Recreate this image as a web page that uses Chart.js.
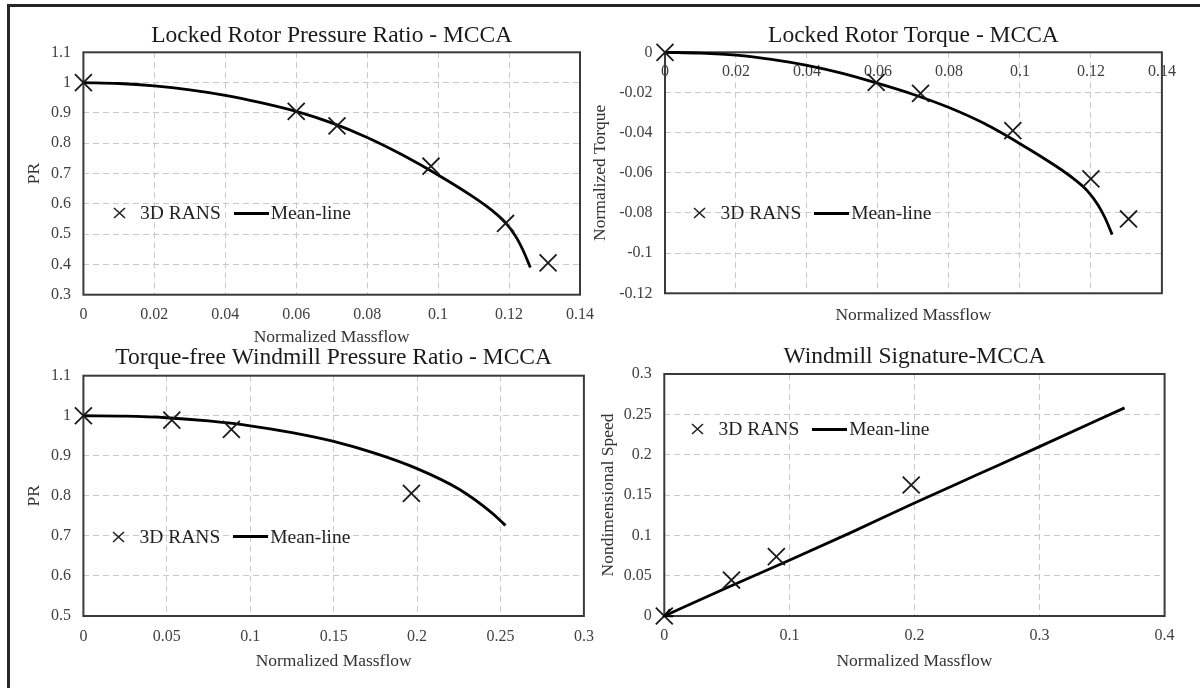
<!DOCTYPE html>
<html>
<head>
<meta charset="utf-8">
<title>MCCA windmill charts</title>
<script src="https://cdn.jsdelivr.net/npm/chart.js@4.4.1/dist/chart.umd.min.js"></script>
<style>
  body { margin: 0; background: #fff; }
  #page { position: relative; width: 1200px; height: 688px; overflow: hidden; background: #fff; }
  #frame { position: absolute; left: 7px; top: 4px; right: 0; bottom: 0; border-left: 3px solid #262626; border-top: 3px solid #262626; }
  #page canvas { position: absolute; }
  .legend { position: absolute; display: flex; align-items: center; height: 24px; font-family: "Liberation Serif", serif; font-size: 19.5px; color: #222; white-space: nowrap; }
  .legend svg { margin-right: 14.5px; }
  .legend .swatch { display: inline-block; width: 35px; height: 3px; background: #000; margin: 0 2px 0 13px; }
</style>
</head>
<body>
<div id="page">
  <div id="frame"></div>
  <canvas id="lrpr"></canvas>
  <canvas id="lrt"></canvas>
  <canvas id="tfw"></canvas>
  <canvas id="ws"></canvas>
</div>
<script>
// Locked rotor pressure ratio
const lrprRansX = [0, 0.06, 0.0715, 0.098, 0.119, 0.131];
const lrprRansY = [1.0, 0.905, 0.857, 0.724, 0.535, 0.405];
const lrprLineX = [0, 0.01, 0.02, 0.03, 0.04, 0.05, 0.06, 0.07, 0.08, 0.09, 0.10, 0.11, 0.115, 0.119, 0.122, 0.124, 0.126];
const lrprLineY = [1.0, 0.997, 0.989, 0.976, 0.958, 0.934, 0.905, 0.867, 0.819, 0.761, 0.695, 0.622, 0.580, 0.538, 0.49, 0.445, 0.39];

// Locked rotor torque
const lrtRansX = [0, 0.0595, 0.072, 0.098, 0.12, 0.1306];
const lrtRansY = [0, -0.015, -0.0205, -0.039, -0.063, -0.083];
const lrtLineX = [0, 0.01, 0.02, 0.03, 0.04, 0.05, 0.06, 0.07, 0.08, 0.09, 0.10, 0.11, 0.115, 0.119, 0.122, 0.124, 0.126];
const lrtLineY = [0, -0.0004, -0.0014, -0.0035, -0.0065, -0.0105, -0.0155, -0.021, -0.0275, -0.0355, -0.0455, -0.0565, -0.0628, -0.069, -0.076, -0.0825, -0.0908];

// Torque-free windmill pressure ratio
const tfwRansX = [0, 0.053, 0.0887, 0.1966];
const tfwRansY = [1.0, 0.989, 0.966, 0.806];
const tfwLineX = [0, 0.025, 0.05, 0.075, 0.1, 0.125, 0.15, 0.175, 0.2, 0.225, 0.245, 0.25, 0.253];
const tfwLineY = [1.0, 0.999, 0.995, 0.987, 0.975, 0.958, 0.936, 0.906, 0.868, 0.817, 0.757, 0.738, 0.726];

// Windmill signature
const wsRansX = [0, 0.0537, 0.0896, 0.1974];
const wsRansY = [0, 0.0446, 0.0735, 0.1624];
const wsLineX = [0, 0.05, 0.1, 0.15, 0.2, 0.25, 0.3, 0.368];
const wsLineY = [0, 0.035, 0.069, 0.104, 0.140, 0.175, 0.210, 0.258];

const seriesNames = ['3D RANS', 'Mean-line'];
const xAxisName = 'Normalized Massflow';

const SERIF = '"Liberation Serif", serif';

function pts(xs, ys) {
    return xs.map((x, i) => ({ x: x, y: ys[i] }));
}

function tickText(v) {
    return String(+v.toFixed(3));
}

// plot area outline like the excel chart
const plotFrame = {
    id: 'plotFrame',
    beforeDatasetsDraw(chart) {
        const a = chart.chartArea;
        const ctx = chart.ctx;
        ctx.save();
        ctx.strokeStyle = '#3a3a3a';
        ctx.lineWidth = 2;
        ctx.strokeRect(a.left, a.top, a.right - a.left, a.bottom - a.top);
        ctx.restore();
    }
};

// little arrow head where the mean-line meets the origin
const arrowStart = {
    id: 'arrowStart',
    afterDatasetsDraw(chart) {
        const meta = chart.getDatasetMeta(1);
        const a = meta.data[0], b = meta.data[1];
        const ang = Math.atan2(a.y - b.y, a.x - b.x);
        const ctx = chart.ctx;
        ctx.save();
        ctx.strokeStyle = '#000';
        ctx.lineWidth = 2;
        ctx.beginPath();
        ctx.moveTo(a.x - 9 * Math.cos(ang - 0.45), a.y - 9 * Math.sin(ang - 0.45));
        ctx.lineTo(a.x, a.y);
        ctx.lineTo(a.x - 9 * Math.cos(ang + 0.45), a.y - 9 * Math.sin(ang + 0.45));
        ctx.stroke();
        ctx.restore();
    }
};

function addLegend(chart, left, centerY) {
    const box = document.createElement('div');
    box.className = 'legend';
    box.style.left = left + 'px';
    box.style.top = (centerY - 12) + 'px';
    const ds = chart.data.datasets;
    box.innerHTML = '<svg width="13" height="12"><path d="M1 1 L12 11 M12 1 L1 11" stroke="#222" stroke-width="1.6" fill="none"/></svg>' +
        '<span>' + ds[0].label + '</span><span class="swatch"></span><span>' + ds[1].label + '</span>';
    document.getElementById('page').appendChild(box);
}

function buildPanel(p) {
    const cv = document.getElementById(p.id);
    cv.width = p.width;
    cv.height = p.height;
    cv.style.left = p.left + 'px';
    cv.style.top = p.top + 'px';

    const gridLines = { color: '#c9c9c9', lineWidth: 1, drawTicks: false, borderDash: [6, 4] };
    const tickFont = { family: SERIF, size: 16 };
    const titleFont = { family: SERIF, size: 17.5 };

    const scales = {
        x: {
            type: 'linear', min: p.xMin, max: p.xMax,
            position: p.xAtZero ? { y: 0 } : 'bottom',
            border: { display: false, dash: [6, 4] },
            grid: gridLines,
            ticks: { stepSize: p.xStep, padding: p.xTickPad, font: tickFont, color: '#404040', maxRotation: 0, autoSkip: false, callback: tickText },
            title: { display: !p.xAtZero, text: xAxisName, font: titleFont, color: '#333', padding: { top: 0, bottom: p.xTitlePad } },
            afterFit: s => { if (!p.xAtZero) s.height = p.xHeight; }
        },
        y: {
            type: 'linear', min: p.yMin, max: p.yMax, position: 'left',
            border: { display: false, dash: [6, 4] },
            grid: gridLines,
            ticks: { stepSize: p.yStep, padding: 12.5, font: tickFont, color: '#404040', autoSkip: false, callback: tickText },
            title: { display: true, text: p.yTitle, font: titleFont, color: '#333', padding: { top: p.yTitlePad, bottom: 0 } },
            afterFit: s => { s.width = p.yWidth; }
        }
    };
    if (p.xAtZero) {
        // axis sits on y = 0 at the top, so its name goes on a bare axis at the bottom
        scales.x2 = {
            type: 'linear', axis: 'x', position: 'bottom', min: p.xMin, max: p.xMax,
            grid: { display: false }, border: { display: false },
            ticks: { display: false },
            title: { display: true, text: xAxisName, font: titleFont, color: '#333', padding: { top: 0, bottom: p.xTitlePad } },
            afterFit: s => { s.height = p.xHeight; }
        };
    }

    const plugins = [plotFrame];
    if (p.arrow) plugins.push(arrowStart);

    const chart = new Chart(cv.getContext('2d'), {
        type: 'scatter',
        data: {
            datasets: [{
                label: seriesNames[0],
                data: pts(p.ransX, p.ransY),
                showLine: false,
                pointStyle: 'crossRot',
                pointRadius: 12,
                pointBorderWidth: 1.8,
                pointBorderColor: '#1a1a1a',
                pointBackgroundColor: 'transparent',
                clip: false
            }, {
                label: seriesNames[1],
                data: pts(p.lineX, p.lineY),
                showLine: true,
                borderColor: '#000',
                borderWidth: 2.8,
                pointRadius: 0,
                cubicInterpolationMode: 'monotone',
                clip: false
            }]
        },
        options: {
            responsive: false,
            animation: false,
            layout: { padding: { left: 0, right: p.padRight, top: 0, bottom: 0 } },
            scales: scales,
            plugins: {
                legend: { display: false },
                tooltip: { enabled: false },
                title: {
                    display: true, text: p.title, fullSize: false,
                    font: { family: SERIF, size: 23.5, weight: 'normal' }, color: '#1a1a1a',
                    padding: p.titlePad
                }
            }
        },
        plugins: plugins
    });
    addLegend(chart, p.legend[0], p.legend[1]);
    return chart;
}

Chart.defaults.font.family = SERIF;

buildPanel({
    id: 'lrpr', title: 'Locked Rotor Pressure Ratio - MCCA', yTitle: 'PR',
    ransX: lrprRansX, ransY: lrprRansY, lineX: lrprLineX, lineY: lrprLineY,
    xMin: 0, xMax: 0.14, xStep: 0.02, yMin: 0.3, yMax: 1.1, yStep: 0.1,
    left: 8, top: 6, width: 596, height: 344, yWidth: 75.4, padRight: 16.5,
    titlePad: { top: 15.9, bottom: 2.2 }, xHeight: 55.3, xTickPad: 10, xTitlePad: 2.5, yTitlePad: 15.5,
    legend: [112.5, 213]
});

buildPanel({
    id: 'lrt', title: 'Locked Rotor Torque - MCCA', yTitle: 'Normalized Torque', xAtZero: true,
    ransX: lrtRansX, ransY: lrtRansY, lineX: lrtLineX, lineY: lrtLineY,
    xMin: 0, xMax: 0.14, xStep: 0.02, yMin: -0.12, yMax: 0, yStep: 0.02,
    left: 588, top: 6, width: 598, height: 322, yWidth: 77, padRight: 16.5,
    titlePad: { top: 15.9, bottom: 2.2 }, xHeight: 34.7, xTickPad: 10.1, xTitlePad: 2.5, yTitlePad: 1.5,
    legend: [693, 213]
});

buildPanel({
    id: 'tfw', title: 'Torque-free Windmill Pressure Ratio - MCCA', yTitle: 'PR',
    ransX: tfwRansX, ransY: tfwRansY, lineX: tfwLineX, lineY: tfwLineY,
    xMin: 0, xMax: 0.3, xStep: 0.05, yMin: 0.5, yMax: 1.1, yStep: 0.1,
    left: 8, top: 340, width: 597, height: 334, yWidth: 75.4, padRight: 16.4,
    titlePad: { top: 3.9, bottom: 3.6 }, xHeight: 58, xTickPad: 11.1, xTitlePad: 1.8, yTitlePad: 15.5,
    legend: [112, 536.7]
});

buildPanel({
    id: 'ws', title: 'Windmill Signature-MCCA', yTitle: 'Nondimensional Speed', arrow: true,
    ransX: wsRansX, ransY: wsRansY, lineX: wsLineX, lineY: wsLineY,
    xMin: 0, xMax: 0.4, xStep: 0.1, yMin: 0, yMax: 0.3, yStep: 0.05,
    left: 588, top: 340, width: 597, height: 334, yWidth: 76.3, padRight: 16.7,
    titlePad: { top: 2.6, bottom: 3.2 }, xHeight: 58, xTickPad: 10.4, xTitlePad: 1.8, yTitlePad: 9.5,
    legend: [691, 429.3]
});

console.log('charts drawn');
</script>
</body>
</html>
